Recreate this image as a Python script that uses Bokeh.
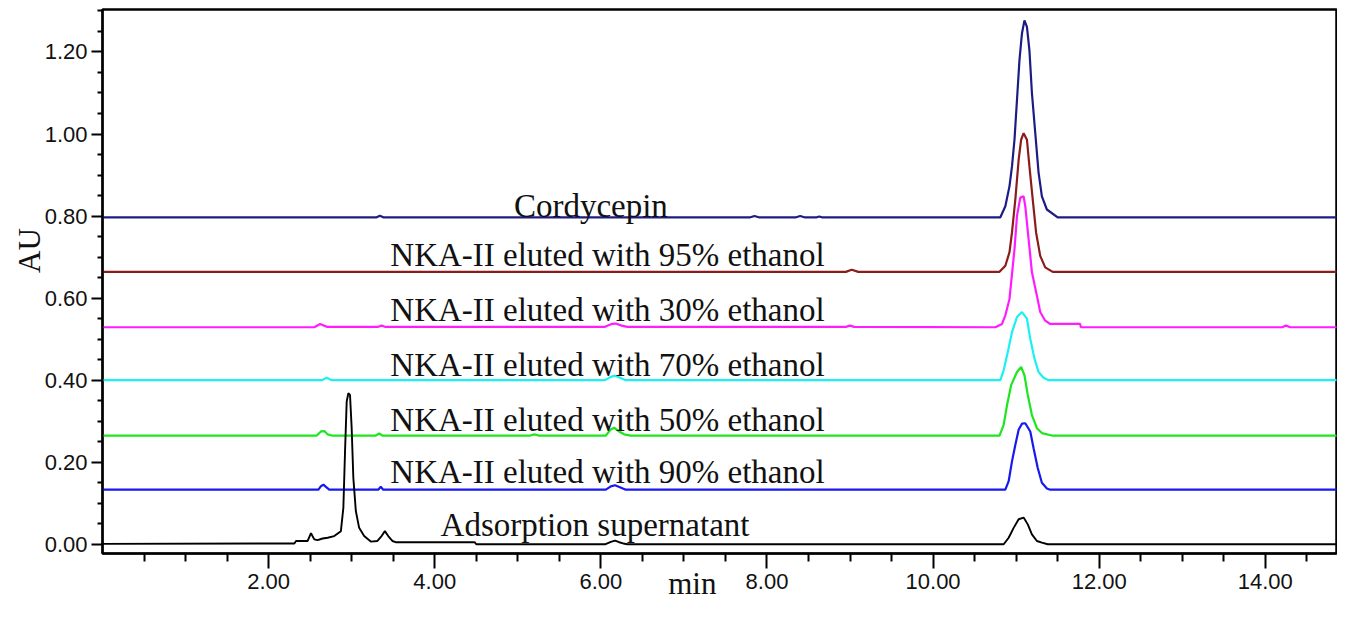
from bokeh.plotting import figure
from bokeh.models import ColumnDataSource, FixedTicker, PrintfTickFormatter, Range1d
from bokeh.core.properties import value
from bokeh.embed import file_html
from bokeh.resources import INLINE

# ---------------- data ----------------
trace_names = [
    "Cordycepin",
    "NKA-II eluted with 95% ethanol",
    "NKA-II eluted with 30% ethanol",
    "NKA-II eluted with 70% ethanol",
    "NKA-II eluted with 50% ethanol",
    "NKA-II eluted with 90% ethanol",
    "Adsorption supernatant",
]

cordycepin_t = [0.0, 3.30, 3.34, 3.38, 7.80, 7.85, 7.90, 8.35, 8.40, 8.45, 8.60, 8.63, 8.66,
                10.81, 10.87, 10.92, 10.95, 10.98, 11.01, 11.04, 11.07, 11.10, 11.13, 11.16,
                11.19, 11.23, 11.27, 11.31, 11.37, 11.50, 15.0]
cordycepin_au = [0.797, 0.797, 0.801, 0.797, 0.797, 0.800, 0.797, 0.797, 0.800, 0.797, 0.797, 0.799, 0.797,
                 0.797, 0.824, 0.873, 0.921, 0.986, 1.083, 1.180, 1.245, 1.277, 1.261, 1.204,
                 1.100, 1.003, 0.906, 0.848, 0.816, 0.797, 0.797]

eth95_t = [0.0, 8.95, 9.02, 9.10, 10.80, 10.87, 10.92, 10.95, 10.99, 11.03, 11.06, 11.09, 11.13,
           11.16, 11.20, 11.24, 11.29, 11.35, 11.44, 15.0]
eth95_au = [0.664, 0.664, 0.669, 0.664, 0.664, 0.679, 0.712, 0.760, 0.840, 0.937, 0.986, 1.002, 0.986,
            0.921, 0.840, 0.760, 0.703, 0.675, 0.664, 0.664]

eth30_t = [0.0, 2.55, 2.62, 2.70, 3.32, 3.36, 3.40, 6.05, 6.13, 6.18, 6.25, 6.32, 8.95, 9.00, 9.05,
           10.75, 10.83, 10.87, 10.92, 10.98, 11.01, 11.05, 11.09, 11.11, 11.15, 11.19, 11.25, 11.29,
           11.35, 11.41, 11.77, 11.78, 14.20, 14.25, 14.30, 15.0]
eth30_au = [0.529, 0.529, 0.537, 0.530, 0.530, 0.533, 0.530, 0.530, 0.537, 0.538, 0.533, 0.530, 0.530, 0.533, 0.530,
            0.529, 0.537, 0.558, 0.598, 0.719, 0.800, 0.845, 0.848, 0.824, 0.744, 0.663, 0.606, 0.566,
            0.545, 0.537, 0.537, 0.529, 0.529, 0.533, 0.529, 0.529]

eth70_t = [0.0, 2.64, 2.70, 2.76, 6.05, 6.12, 6.17, 6.23, 6.30, 10.81, 10.85, 10.90, 10.95, 11.01,
           11.07, 11.13, 11.17, 11.22, 11.27, 11.33, 11.39, 15.0]
eth70_au = [0.400, 0.400, 0.406, 0.400, 0.400, 0.408, 0.411, 0.406, 0.400, 0.400, 0.424, 0.469, 0.517, 0.554,
            0.566, 0.550, 0.501, 0.453, 0.420, 0.406, 0.400, 0.400]

eth50_t = [0.0, 2.58, 2.63, 2.67, 2.71, 2.76, 3.29, 3.33, 3.37, 5.15, 5.20, 5.25, 6.06, 6.12, 6.16,
           6.22, 6.28, 6.36, 10.80, 10.85, 10.89, 10.94, 11.01, 11.06, 11.10, 11.14, 11.19, 11.25,
           11.31, 11.43, 15.0]
eth50_au = [0.265, 0.265, 0.275, 0.276, 0.268, 0.265, 0.265, 0.270, 0.265, 0.265, 0.268, 0.265, 0.265, 0.280, 0.284,
            0.275, 0.268, 0.265, 0.265, 0.291, 0.339, 0.388, 0.420, 0.4325, 0.412, 0.364, 0.315, 0.283,
            0.271, 0.265, 0.265]

eth90_t = [0.0, 2.60, 2.63, 2.66, 2.69, 2.73, 3.32, 3.35, 3.38, 6.06, 6.12, 6.17, 6.23, 6.30,
           10.87, 10.91, 10.95, 10.99, 11.03, 11.07, 11.11, 11.17, 11.21, 11.26, 11.31, 11.37, 11.41, 15.0]
eth90_au = [0.133, 0.133, 0.1415, 0.1455, 0.140, 0.133, 0.133, 0.140, 0.133, 0.133, 0.141, 0.144, 0.139, 0.133,
            0.133, 0.1537, 0.202, 0.242, 0.279, 0.294, 0.295, 0.275, 0.234, 0.186, 0.150, 0.136, 0.133, 0.133]

super_t = [0.0, 2.31, 2.33, 2.47, 2.51, 2.55, 2.59, 2.65, 2.71, 2.79, 2.87, 2.90, 2.92, 2.94, 2.96,
           2.98, 3.00, 3.02, 3.05, 3.09, 3.15, 3.23, 3.31, 3.36, 3.40, 3.44, 3.49, 3.53, 4.48, 4.50,
           6.05, 6.12, 6.17, 6.22, 6.27, 6.32, 10.85, 10.91, 10.97, 11.03, 11.09, 11.14, 11.19, 11.25,
           11.31, 11.38, 15.0]
super_au = [0.001, 0.002, 0.008, 0.008, 0.027, 0.012, 0.010, 0.014, 0.016, 0.020, 0.032, 0.089, 0.226, 0.348, 0.368,
            0.364, 0.283, 0.162, 0.081, 0.040, 0.020, 0.0065, 0.008, 0.020, 0.032, 0.020, 0.008, 0.005, 0.005, 0.0,
            0.0, 0.006, 0.009, 0.005, 0.002, 0.0, 0.0, 0.016, 0.040, 0.061, 0.065, 0.0485, 0.024, 0.008,
            0.004, 0.0, 0.0]

x_major_ticks = [2, 4, 6, 8, 10, 12, 14]
x_minor_ticks = [0.5, 1.0, 1.5, 2.5, 3.0, 3.5, 4.5, 5.0, 5.5, 6.5, 7.0, 7.5, 8.5, 9.0, 9.5,
                 10.5, 11.0, 11.5, 12.5, 13.0, 13.5, 14.5]
y_major_ticks = [0.0, 0.2, 0.4, 0.6, 0.8, 1.0, 1.2]
y_minor_ticks = [0.05, 0.10, 0.15, 0.25, 0.30, 0.35, 0.45, 0.50, 0.55, 0.65, 0.70, 0.75,
                 0.85, 0.90, 0.95, 1.05, 1.10, 1.15, 1.25, 1.30]
x_title = "min"
y_title = "AU"

# ---------------- layout / style ----------------
trace_colors = ["#1c1c84", "#8b1c1c", "#ff1cff", "#1cf0f0", "#1ee61e", "#1818f0", "#000000"]
trace_widths = [2.2, 2.2, 2.2, 2.2, 2.2, 2.2, 1.9]
label_x = [5.88, 6.08, 6.08, 6.08, 6.08, 6.08, 5.93]
label_y = [0.825, 0.706, 0.570, 0.437, 0.3035, 0.175, 0.0465]
NBSP = "\u00a0"

series = [(cordycepin_t, cordycepin_au), (eth95_t, eth95_au), (eth30_t, eth30_au),
          (eth70_t, eth70_au), (eth50_t, eth50_au), (eth90_t, eth90_au), (super_t, super_au)]

p = figure(width=1337, height=603, output_backend="svg", toolbar_location=None,
           x_range=Range1d(0, 14.857), y_range=Range1d(-0.0225, 1.3035),
           min_border_left=102, min_border_right=1, min_border_top=9, min_border_bottom=47)
p.xgrid.visible = False
p.ygrid.visible = False
p.background_fill_color = "white"
p.border_fill_color = "white"
p.outline_line_color = "black"
p.outline_line_width = 2.5

for (t, au), c, w in zip(series, trace_colors, trace_widths):
    assert len(t) == len(au)
    p.line(t, au, line_color=c, line_width=w)

src = ColumnDataSource(dict(x=label_x, y=label_y, text=trace_names))
p.text(x="x", y="y", text="text", source=src, text_font=value("Liberation Serif"),
       text_font_size="33px", text_align="center", text_baseline="alphabetic", text_color="#111111")

p.xaxis.ticker = FixedTicker(ticks=x_major_ticks, minor_ticks=x_minor_ticks)
p.yaxis.ticker = FixedTicker(ticks=y_major_ticks, minor_ticks=y_minor_ticks)
for ax in (p.xaxis, p.yaxis):
    ax.formatter = PrintfTickFormatter(format="%.2f")
    ax.axis_line_color = "black"
    ax.axis_line_width = 2
    ax.major_tick_line_color = "black"
    ax.minor_tick_line_color = "black"
    ax.major_tick_line_width = 2
    ax.minor_tick_line_width = 2
    ax.major_tick_in = 0
    ax.minor_tick_in = 0
    ax.major_label_text_font = "Liberation Sans"
    ax.major_label_text_font_size = "22px"
    ax.major_label_text_color = "#111111"
    ax.axis_label_text_font = "Liberation Serif"
    ax.axis_label_text_font_style = "normal"
    ax.axis_label_text_color = "#111111"

p.xaxis.major_tick_out = 15
p.xaxis.minor_tick_out = 8
p.xaxis.major_label_standoff = 5
p.xaxis.axis_label = x_title + NBSP * 7
p.xaxis.axis_label_text_font_size = "31px"
p.xaxis.axis_label_standoff = -26

p.yaxis.major_tick_out = 11
p.yaxis.minor_tick_out = 5
p.yaxis.major_label_standoff = 4
p.yaxis.axis_label = NBSP * 8 + y_title
p.yaxis.axis_label_text_font_size = "31px"
p.yaxis.axis_label_standoff = -5

open("out.html", "w").write(file_html(p, INLINE))
